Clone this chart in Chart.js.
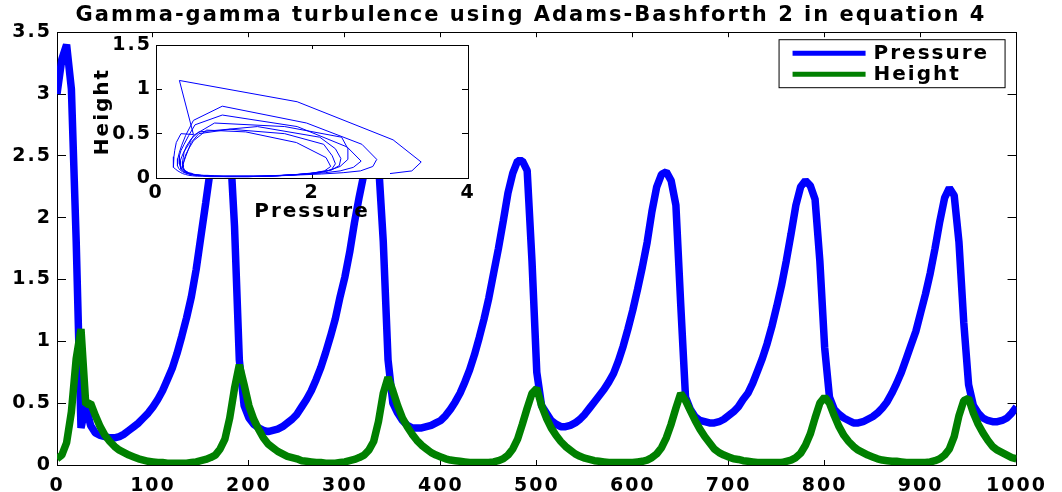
<!DOCTYPE html>
<html>
<head>
<meta charset="utf-8">
<script src="https://cdn.jsdelivr.net/npm/chart.js@4.4.1/dist/chart.umd.min.js"></script>
<style>
  html, body { margin: 0; padding: 0; background: #fff; }
  #wrap { position: relative; width: 1062px; height: 492px; }
  #wrap canvas { position: absolute; left: 0; top: 0; }
</style>
</head>
<body>
<div id="wrap">
  <canvas id="main" width="1062" height="492"></canvas>
  <canvas id="inset" width="1062" height="492"></canvas>
</div>
<script>
// time steps (Adams-Bashforth 2, step 5)
const time = [
  0, 5, 10, 15, 20, 25, 30, 35, 40, 45,
  50, 55, 60, 65, 70, 75, 80, 85, 90, 95,
  100, 105, 110, 115, 120, 125, 130, 135, 140, 145,
  150, 155, 160, 165, 170, 175, 180, 185, 190, 195,
  200, 205, 210, 215, 220, 225, 230, 235, 240, 245,
  250, 255, 260, 265, 270, 275, 280, 285, 290, 295,
  300, 305, 310, 315, 320, 325, 330, 335, 340, 345,
  350, 355, 360, 365, 370, 375, 380, 385, 390, 395,
  400, 405, 410, 415, 420, 425, 430, 435, 440, 445,
  450, 455, 460, 465, 470, 475, 480, 485, 490, 495,
  500, 505, 510, 515, 520, 525, 530, 535, 540, 545,
  550, 555, 560, 565, 570, 575, 580, 585, 590, 595,
  600, 605, 610, 615, 620, 625, 630, 635, 640, 645,
  650, 655, 660, 665, 670, 675, 680, 685, 690, 695,
  700, 705, 710, 715, 720, 725, 730, 735, 740, 745,
  750, 755, 760, 765, 770, 775, 780, 785, 790, 795,
  800, 805, 810, 815, 820, 825, 830, 835, 840, 845,
  850, 855, 860, 865, 870, 875, 880, 885, 890, 895,
  900, 905, 910, 915, 920, 925, 930, 935, 940, 945,
  950, 955, 960, 965, 970, 975, 980, 985, 990, 995,
  1000
];

const pressure = [
  3.00, 3.28, 3.40, 3.04, 1.81, 0.30, 0.48, 0.32, 0.26, 0.24,
  0.23, 0.22, 0.22, 0.23, 0.25, 0.28, 0.31, 0.34, 0.38, 0.42,
  0.47, 0.53, 0.60, 0.69, 0.78, 0.90, 1.04, 1.19, 1.36, 1.58,
  1.85, 2.12, 2.40, 2.62, 2.78, 2.83, 2.64, 1.93, 0.85, 0.48,
  0.38, 0.33, 0.30, 0.28, 0.27, 0.28, 0.29, 0.31, 0.34, 0.37,
  0.41, 0.47, 0.53, 0.60, 0.69, 0.79, 0.91, 1.04, 1.18, 1.36,
  1.52, 1.72, 1.96, 2.17, 2.36, 2.53, 2.63, 2.45, 1.81, 0.85,
  0.50, 0.42, 0.36, 0.32, 0.30, 0.30, 0.30, 0.31, 0.32, 0.34,
  0.36, 0.40, 0.45, 0.51, 0.58, 0.67, 0.77, 0.89, 1.03, 1.18,
  1.35, 1.55, 1.75, 1.97, 2.20, 2.36, 2.46, 2.46, 2.38, 1.65,
  0.75, 0.48, 0.42, 0.36, 0.33, 0.31, 0.31, 0.32, 0.34, 0.37,
  0.41, 0.46, 0.51, 0.56, 0.61, 0.67, 0.74, 0.84, 0.96, 1.10,
  1.25, 1.42, 1.60, 1.80, 2.05, 2.25, 2.35, 2.37, 2.30, 2.10,
  1.30, 0.55, 0.45, 0.39, 0.36, 0.35, 0.34, 0.34, 0.35, 0.37,
  0.40, 0.43, 0.47, 0.53, 0.58, 0.66, 0.76, 0.86, 0.98, 1.12,
  1.28, 1.45, 1.65, 1.87, 2.10, 2.25, 2.30, 2.26, 2.15, 1.65,
  0.95, 0.55, 0.45, 0.41, 0.38, 0.36, 0.34, 0.34, 0.35, 0.37,
  0.39, 0.42, 0.46, 0.51, 0.58, 0.66, 0.75, 0.86, 0.97, 1.08,
  1.23, 1.38, 1.55, 1.75, 1.97, 2.16, 2.24, 2.18, 1.80, 1.15,
  0.65, 0.48, 0.42, 0.38, 0.36, 0.35, 0.35, 0.36, 0.38, 0.42,
  0.47
];

const height = [
  0.05, 0.08, 0.18, 0.43, 0.86, 1.10, 0.49, 0.50, 0.40, 0.31,
  0.24, 0.19, 0.15, 0.12, 0.10, 0.08, 0.065, 0.05, 0.04, 0.03,
  0.025, 0.02, 0.02, 0.015, 0.015, 0.015, 0.015, 0.015, 0.02, 0.025,
  0.035, 0.045, 0.06, 0.08, 0.13, 0.21, 0.38, 0.62, 0.81, 0.65,
  0.48, 0.37, 0.29, 0.22, 0.17, 0.14, 0.11, 0.09, 0.07, 0.06,
  0.05, 0.035, 0.03, 0.025, 0.02, 0.02, 0.015, 0.015, 0.015, 0.02,
  0.025, 0.035, 0.045, 0.06, 0.08, 0.12, 0.19, 0.35, 0.58, 0.71,
  0.60, 0.48, 0.38, 0.31, 0.25, 0.20, 0.16, 0.13, 0.10, 0.08,
  0.065, 0.05, 0.04, 0.035, 0.03, 0.025, 0.02, 0.02, 0.02, 0.02,
  0.02, 0.025, 0.035, 0.05, 0.08, 0.13, 0.21, 0.33, 0.46, 0.58,
  0.62, 0.48, 0.38, 0.30, 0.24, 0.19, 0.15, 0.12, 0.09, 0.07,
  0.055, 0.045, 0.035, 0.03, 0.025, 0.02, 0.02, 0.02, 0.02, 0.02,
  0.02, 0.025, 0.03, 0.04, 0.06, 0.09, 0.14, 0.22, 0.33, 0.46,
  0.58, 0.52, 0.44, 0.36, 0.29, 0.23, 0.18, 0.13, 0.10, 0.08,
  0.065, 0.05, 0.045, 0.035, 0.03, 0.025, 0.02, 0.02, 0.02, 0.02,
  0.02, 0.02, 0.03, 0.04, 0.06, 0.095, 0.16, 0.25, 0.38, 0.50,
  0.55, 0.50, 0.40, 0.31, 0.24, 0.19, 0.15, 0.12, 0.10, 0.08,
  0.065, 0.05, 0.04, 0.035, 0.03, 0.03, 0.025, 0.02, 0.02, 0.02,
  0.02, 0.02, 0.025, 0.035, 0.05, 0.08, 0.13, 0.23, 0.40, 0.52,
  0.54, 0.42, 0.33, 0.26, 0.20, 0.15, 0.12, 0.10, 0.08, 0.06,
  0.05
];

const xTicks = [0, 100, 200, 300, 400, 500, 600, 700, 800, 900, 1000];
const yTicks = [0, 0.5, 1, 1.5, 2, 2.5, 3, 3.5];
const insetXTicks = [0, 2, 4];
const insetYTicks = [0, 0.5, 1, 1.5];

Chart.defaults.font.family = '"DejaVu Sans", sans-serif';
Chart.defaults.color = '#000';

// wide, bold lettering like the stretched MATLAB figure
const spacing = {
  id: 'spacing',
  beforeUpdate(chart) { chart.ctx.letterSpacing = '2px'; },
  beforeDraw(chart) { chart.ctx.letterSpacing = '2px'; }
};

// boxed legend in the top right corner of the plot
const legendBox = {
  id: 'legendBox',
  afterDraw(chart) {
    const { ctx, chartArea: a } = chart;
    const x0 = a.right - 238, y0 = a.top + 7, w = 226, h = 48;
    ctx.save();
    ctx.fillStyle = '#fff';
    ctx.fillRect(x0, y0, w, h);
    ctx.strokeStyle = '#000';
    ctx.lineWidth = 1;
    ctx.strokeRect(x0 + 0.5, y0 + 0.5, w, h);
    ctx.font = 'bold 20px "DejaVu Sans"';
    ctx.textBaseline = 'middle';
    chart.data.datasets.forEach((ds, i) => {
      const y = y0 + 14 + i * 21;
      ctx.strokeStyle = ds.borderColor;
      ctx.lineWidth = 5;
      ctx.beginPath();
      ctx.moveTo(x0 + 14, y);
      ctx.lineTo(x0 + 87, y);
      ctx.stroke();
      ctx.fillStyle = '#000';
      ctx.fillText(ds.label, x0 + 95, y + 1);
    });
    ctx.restore();
  }
};

// inset axes have a white plot area over the main chart
const whiteArea = {
  id: 'whiteArea',
  beforeDraw(chart) {
    const { ctx, chartArea: a } = chart;
    ctx.save();
    ctx.fillStyle = '#fff';
    ctx.fillRect(a.left, a.top, a.right - a.left, a.bottom - a.top);
    ctx.restore();
  }
};

const tickFont = { size: 19, weight: 'bold' };

// box-style axis: ticks point inwards, labels only on bottom/left
function axis(pos, min, max, vals, tickLen, pad, size, extra) {
  const horiz = pos === 'top' || pos === 'bottom';
  return Object.assign({
    type: 'linear',
    position: pos,
    min: min,
    max: max,
    afterBuildTicks: s => { s.ticks = vals.map(v => ({ value: v })); },
    ticks: {
      display: pad !== null,
      padding: pad || 0,
      font: tickFont,
      color: '#000',
      maxRotation: 0,
      autoSkip: false,
      callback: v => String(v)
    },
    grid: { drawOnChartArea: false, tickLength: tickLen, color: '#000', lineWidth: 1 },
    border: { color: '#000', width: 1 },
    afterFit: s => { if (horiz) s.height = size; else s.width = size; }
  }, extra || {});
}

new Chart(document.getElementById('main'), {
  type: 'line',
  data: {
    datasets: [
      {
        label: 'Pressure',
        data: time.map((t, i) => ({ x: t, y: pressure[i] })),
        borderColor: '#0000ff',
        borderWidth: 7.5,
        xAxisID: 'x', yAxisID: 'y',
        order: 1
      },
      {
        label: 'Height',
        data: time.map((t, i) => ({ x: t, y: height[i] })),
        borderColor: '#008000',
        borderWidth: 7.5,
        xAxisID: 'x', yAxisID: 'y',
        order: 0
      }
    ]
  },
  options: {
    responsive: false,
    animation: false,
    events: [],
    elements: {
      point: { radius: 0 },
      line: { tension: 0, fill: false, borderJoinStyle: 'bevel', borderCapStyle: 'butt' }
    },
    layout: { padding: 0 },
    plugins: {
      legend: { display: false },
      tooltip: { enabled: false },
      title: {
        display: true,
        text: 'Gamma-gamma turbulence using Adams-Bashforth 2 in equation 4',
        font: { size: 21, weight: 'bold' },
        color: '#000',
        padding: { top: 3, bottom: 4 }
      }
    },
    scales: {
      x: axis('bottom', 0, 1000, xTicks, -5, 15, 27),
      y: axis('left', 0, 3.5, yTicks, -9, 14, 57),
      x2: axis('top', 0, 1000, xTicks, -5, null, 0),
      y2: axis('right', 0, 3.5, yTicks, -9, null, 38)
    }
  },
  plugins: [spacing, legendBox]
});

new Chart(document.getElementById('inset'), {
  type: 'scatter',
  data: {
    datasets: [{
      label: 'Height vs Pressure',
      data: pressure.map((p, i) => ({ x: p, y: height[i] })),
      showLine: true,
      borderColor: '#0000ff',
      borderWidth: 1,
      pointRadius: 0,
      tension: 0
    }]
  },
  options: {
    responsive: false,
    animation: false,
    events: [],
    layout: { padding: { left: 86, top: 45, right: 594, bottom: 264 } },
    plugins: { legend: { display: false }, tooltip: { enabled: false } },
    scales: {
      x: axis('bottom', 0, 4, insetXTicks, -4, 8, 50, {
        title: { display: true, text: 'Pressure', font: { size: 20, weight: 'bold' }, color: '#000', padding: { top: 0, bottom: 4 } }
      }),
      y: axis('left', 0, 1.5, insetYTicks, -6, 10, 70, {
        title: { display: true, text: 'Height', font: { size: 20, weight: 'bold' }, color: '#000', padding: { top: 5, bottom: 0 } }
      }),
      x2: axis('top', 0, 4, insetXTicks, -4, null, 0),
      y2: axis('right', 0, 1.5, insetYTicks, -6, null, 0)
    }
  },
  plugins: [spacing, whiteArea]
});
</script>
</body>
</html>
